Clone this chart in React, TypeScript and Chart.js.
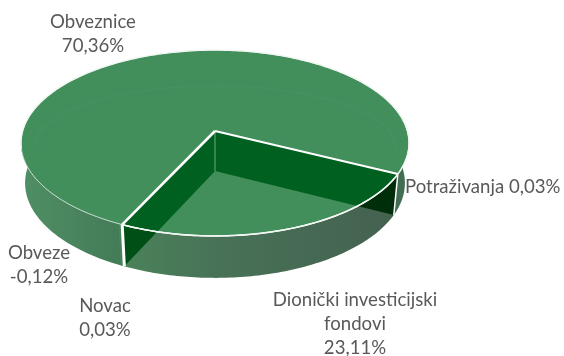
import React, { useEffect, useRef } from "react";
import { Chart, registerables } from "chart.js";

Chart.register(...registerables);

const categories = ["Obveznice", "Potraživanja", "Dionički investicijski fondovi", "Novac", "Obveze"];
const shares = [70.36, 0.03, 23.11, 0.03, -0.12];
const sliceColors = ["#428f5c", "#428f5c", "#428f5c", "#428f5c", "#428f5c"];
const labelLines = [["Obveznice"], ["Potraživanja"], ["Dionički investicijski", "fondovi"], ["Novac"], ["Obveze"]];

const FONT = '18.6px Lato, "Open Sans", sans-serif';
const TOP_COLOR = "#428f5c";
const labelLayout = [
  { x: 93, y: 22, align: "center", inline: false },
  { x: 405, y: 187, align: "left", inline: true },
  { x: 355, y: 300, align: "center", inline: false },
  { x: 105, y: 306, align: "center", inline: false },
  { x: 39, y: 253, align: "center", inline: false },
];

const fmt = (v: number) => v.toFixed(2).replace(".", ",") + "%";

const pie3d = {
  id: "pie3d",
  beforeDatasetsDraw(chart: any) {
    const ctx: CanvasRenderingContext2D = chart.ctx;
    const arcs = chart.getDatasetMeta(0).data;
    const { x: cx, y: cy, outerRadius: rx } = arcs[0];
    const ry = rx * 0.479;
    const apexDrop = ry * 0.129;
    const k = apexDrop / ry;
    const bRx = rx * 0.979;
    const bRy = ry * 1.021;
    const bCy = cy + 40;
    const bK = apexDrop / bRy;
    const top = (t: number) => {
      const w = 1 - k * Math.sin(t);
      return [cx + (rx * Math.sqrt(1 - k * k) * Math.cos(t)) / w, cy + (ry * (Math.sin(t) - k)) / w];
    };
    const bot = (t: number) => {
      const w = 1 - bK * Math.sin(t);
      return [cx + (bRx * Math.sqrt(1 - bK * bK) * Math.cos(t)) / w, bCy + (bRy * (Math.sin(t) - bK)) / w];
    };
    const samples = (a: number, b: number) => {
      const n = Math.max(2, Math.ceil(Math.abs(b - a) * 60));
      return Array.from({ length: n + 1 }, (_, i) => a + ((b - a) * i) / n);
    };
    const poly = (pts: number[][]) => {
      ctx.beginPath();
      pts.forEach((p, i) => (i ? ctx.lineTo(p[0], p[1]) : ctx.moveTo(p[0], p[1])));
    };
    const band = (a: number, b: number) =>
      poly([...samples(a, b).map(top), ...samples(a, b).reverse().map(bot)]);
    const hGrad = (stops: [number, string][]) => {
      const g = ctx.createLinearGradient(cx - rx, 0, cx + rx, 0);
      stops.forEach(([s, c]) => g.addColorStop(s, c));
      return g;
    };
    const ellipsePath = () => poly(samples(0, Math.PI * 2).map(top));

    const main = arcs[0];
    const wedge = arcs[2];
    const wA = wedge.startAngle;
    const wB = wedge.endAngle;
    const apex = [cx, cy - apexDrop];
    const apexLow = [cx, bCy - apexDrop];

    ctx.save();
    ctx.lineJoin = "round";

    // outer walls
    band(main.startAngle, main.endAngle);
    ctx.fillStyle = hGrad([[0, "#4f8f64"], [0.27, "#437a57"], [0.5, "#3f7753"], [0.95, "#3d6b4e"], [1, "#456f55"]]);
    ctx.fill();
    band(wA - 0.02, wB + 0.02);
    ctx.fillStyle = hGrad([[0.27, "#4a8259"], [0.5, "#487258"], [1, "#44604e"]]);
    ctx.fill();

    // inner walls below the rim
    poly([apex, top(wB), bot(wB), apexLow]);
    ctx.fillStyle = "#004f17";
    ctx.fill();
    poly([apex, top(wA), bot(wA), apexLow]);
    ctx.fillStyle = "#002d0a";
    ctx.fill();

    // floor inside rim
    ellipsePath();
    ctx.fillStyle = TOP_COLOR;
    ctx.fill();
    ctx.save();
    ellipsePath();
    ctx.clip();
    poly([apex, top(wB), bot(wB), apexLow]);
    ctx.fillStyle = "#00601f";
    ctx.fill();
    poly([apex, top(wA), bot(wA), apexLow]);
    ctx.fill();
    ctx.restore();

    // white rim & separators
    ctx.strokeStyle = "#f4f8f5";
    ctx.lineWidth = 1.5;
    poly(samples(wA, wB).map(top));
    ctx.stroke();
    ctx.strokeStyle = "#ffffff";
    ctx.lineWidth = 3;
    poly([top(wB), bot(wB)]);
    ctx.stroke();
    ctx.lineWidth = 1.5;
    poly([top(wA), bot(wA)]);
    ctx.stroke();
    ctx.strokeStyle = "rgba(255,255,255,0.45)";
    ctx.lineWidth = 1;
    poly([apex, apexLow]);
    ctx.stroke();

    // main top surface
    poly([apex, ...samples(main.startAngle, main.endAngle).map(top)]);
    ctx.closePath();
    ctx.fillStyle = main.options.backgroundColor;
    ctx.fill();

    // faint bevel ring
    ctx.strokeStyle = "rgba(255,255,255,0.025)";
    ctx.lineWidth = 1.5;
    ctx.beginPath();
    ctx.ellipse(cx, cy + 4, rx - 13, ry - 32, 0, Math.PI * 0.99, Math.PI * 2.01);
    ctx.stroke();

    // edges of main slice
    ctx.strokeStyle = "#ffffff";
    ctx.lineWidth = 2.6;
    poly([top(wB), apex]);
    ctx.stroke();
    ctx.lineWidth = 2;
    poly([apex, top(wA)]);
    ctx.stroke();

    // front rim on main slice
    ctx.lineWidth = 1.4;
    ctx.strokeStyle = "#f4f8f5";
    poly(samples(wB, Math.PI * 0.94).map(top));
    ctx.stroke();
    ctx.strokeStyle = "rgba(240,246,242,0.75)";
    ctx.lineWidth = 1;
    poly(samples(-0.16, wA).map(top));
    ctx.stroke();

    // labels
    ctx.font = FONT;
    ctx.fillStyle = "#595959";
    ctx.textBaseline = "middle";
    shares.forEach((v, i) => {
      const l = labelLayout[i];
      ctx.textAlign = l.align as CanvasTextAlign;
      const lines = l.inline ? [labelLines[i].join(" ") + " " + fmt(v)] : [...labelLines[i], fmt(v)];
      lines.forEach((t, j) => ctx.fillText(t, l.x, l.y + j * 24));
    });
    ctx.restore();
    return false;
  },
};

export default function App() {
  const ref = useRef<HTMLCanvasElement>(null);
  useEffect(() => {
    const chart = new Chart(ref.current!, {
      type: "pie",
      data: {
        labels: categories,
        datasets: [{ data: shares, backgroundColor: sliceColors, borderWidth: 0 }],
      },
      options: {
        responsive: false,
        animation: false,
        rotation: 205.8,
        radius: 194,
        layout: { padding: { left: 0, right: 134, top: 0, bottom: 70 } },
        plugins: { legend: { display: false }, tooltip: { enabled: false } },
      },
      plugins: [pie3d],
    } as any);
    return () => chart.destroy();
  }, []);
  return (
    <div style={{ position: "absolute", left: 0, top: 0, width: 564, height: 356, background: "#fff" }}>
      <canvas ref={ref} width={564} height={356} style={{ display: "block" }} />
    </div>
  );
}
